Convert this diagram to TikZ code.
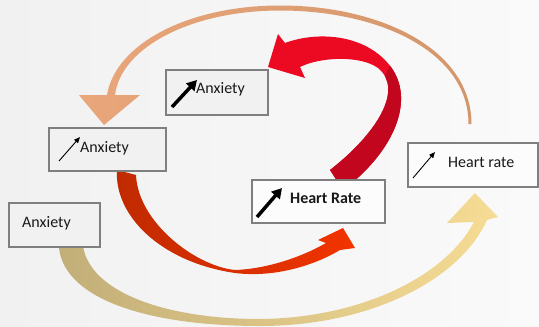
\documentclass[tikz,border=0pt]{standalone}
\usepackage{fontspec}
\setmainfont{Carlito}
\usepackage{tikz}
\usetikzlibrary{arrows.meta}

\definecolor{bgleft}{HTML}{F1F1F1}
\definecolor{bgright}{HTML}{FAFAFA}
\definecolor{boxgray}{HTML}{7F7F7F}
\definecolor{peachleft}{HTML}{E9A67A}
\definecolor{peachright}{HTML}{D4966C}
\definecolor{goldleft}{HTML}{C2AE78}
\definecolor{goldright}{HTML}{F6DC94}
\definecolor{orangeleft}{HTML}{C02A00}
\definecolor{orangeright}{HTML}{F23400}
\definecolor{redbright}{HTML}{EC0A22}
\definecolor{reddark}{HTML}{C1061D}

% outline of the red arrow at the top
\newcommand{\redtoppath}{(330,170) .. controls (375,135) and (405,90) .. (378,68) .. controls (360,55) and (320,57) .. (300,67) -- (305,78) -- (268,67) -- (278,34) -- (285,43) .. controls (320,30) and (370,35) .. (393,70) .. controls (415,105) and (390,155) .. (343,190) -- cycle}

\begin{document}
\begin{tikzpicture}[x=1pt,y=1pt,yscale=-1,
	box/.style={draw=boxgray, line width=1.1pt, fill=#1, inner sep=0pt},
	box/.default={bgleft},
	lbl/.style={inner sep=0pt, anchor=base west, text=black!90, font=\fontsize{16}{19}\selectfont},
	bigup/.style={line width=3.5pt, -{Triangle[length=10pt,width=11pt]}},
	smallup/.style={line width=0.9pt, -{Triangle[length=6pt,width=5pt]}}]
	
	%Background
	\shade[left color=bgleft, right color=bgright] (0,0) rectangle (539,327);
	\useasboundingbox (0,0) rectangle (539,327);
	
	%Shape: Curved Arrow, outer top
	\shade[left color=peachleft, right color=peachright] (471.5,124) .. controls (471.5,49) and (380,5.5) .. (280,5.5) .. controls (188,5.5) and (115.5,44) .. (107,95) -- (79,95) -- (104,125) -- (140,95) -- (115,95) .. controls (121,47) and (192,10.5) .. (280,10.5) .. controls (378,10.5) and (468.5,51) .. (468.5,124) -- cycle;
	%Shape: Curved Arrow, outer bottom
	\shade[left color=goldleft, right color=goldright] (59,248) .. controls (65,300) and (150,326) .. (260,326) .. controls (370,326) and (460,280) .. (487,220) -- (498,217) -- (475,193) -- (447,223) -- (474,222) .. controls (445,277) and (360,318) .. (260,319) .. controls (165,319) and (90,292) .. (83,246) -- cycle;
	%Shape: Curved Arrow, inner bottom
	\shade[left color=orangeleft, right color=orangeright] (117,170) .. controls (114,215) and (160,262) .. (235,273) .. controls (275,278) and (315,265) .. (340,250) -- (355,248) -- (343,228) -- (318,240) -- (326,243) .. controls (300,258) and (265,269) .. (235,270) .. controls (195,266) and (138,222) .. (136,175) -- cycle;
	%Shape: Curved Arrow, inner top
	\fill[redbright] \redtoppath;
	\begin{scope}
		\clip (320,200) -- (320,95) -- (381,84) -- (395,55) -- (440,55) -- (440,200) -- cycle;
		\fill[reddark] \redtoppath;
	\end{scope}
	
	%Boxes
	\node[box, minimum width=102pt, minimum height=45pt] (anxup) at (217,92.5) {};
	\node[box, minimum width=117pt, minimum height=43pt] (anxmid) at (107.5,149.5) {};
	\node[box, minimum width=91pt, minimum height=44pt] (anxlow) at (54.5,225) {};
	\node[box=white!40!bgright, minimum width=133pt, minimum height=43pt] (hrbold) at (318.5,201.5) {};
	\node[box=white!50!bgright, minimum width=130pt, minimum height=44pt] (hrtop) at (473,165) {};
	
	% Text Node
	\node[lbl] (anxuptext) at (196,93) {Anxiety};
	% Text Node
	\node[lbl] (anxmidtext) at (80,152) {Anxiety};
	% Text Node
	\node[lbl] (anxlowtext) at (22,227) {Anxiety};
	% Text Node
	\node[lbl, font=\fontsize{16}{19}\selectfont\bfseries] (hrboldtext) at (290,203) {Heart Rate};
	% Text Node
	\node[lbl] (hrtoptext) at (448,167) {Heart rate};
	
	%Straight Lines: rising arrows
	\draw[bigup] (172,107) -- (197,80);
	\draw[smallup] (59,161) -- (80,137);
	\draw[bigup] (257,217) -- (282,188);
	\draw[smallup] (413,178) -- (435,152);
	
\end{tikzpicture}
\end{document}
